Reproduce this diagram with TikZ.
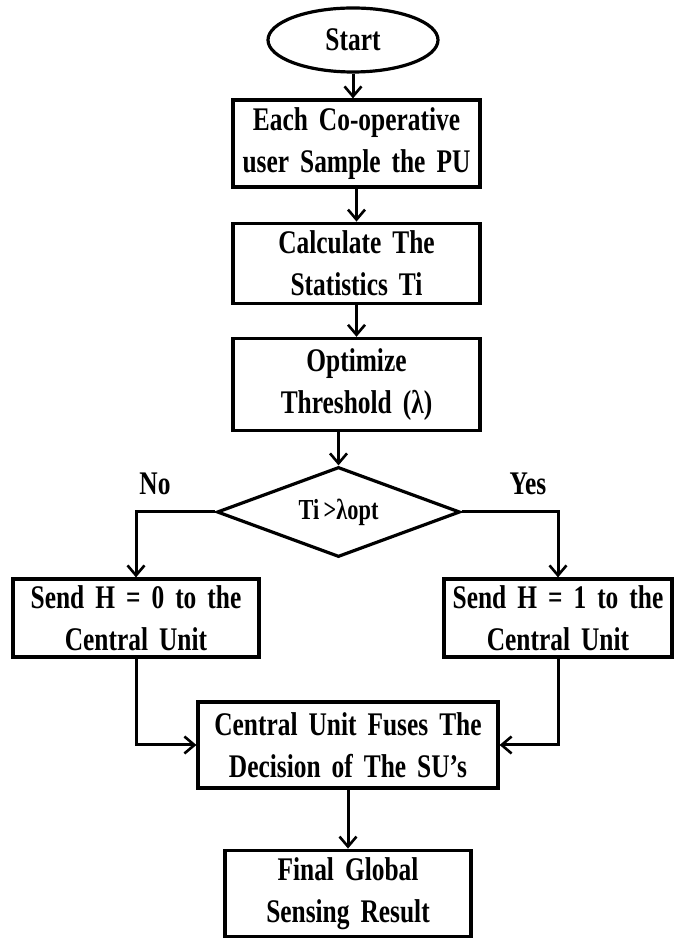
\documentclass[tikz,border=0pt]{standalone}
\usepackage{fontspec}
\setmainfont{Liberation Serif}[FakeStretch=0.77]
\usetikzlibrary{arrows.meta,positioning,shapes.geometric}
\newcommand\flowfont{\bfseries\fontsize{33}{42}\selectfont\spaceskip=5pt plus 1pt minus 1pt\relax}
\newcommand\testfont{\bfseries\fontsize{29}{34}\selectfont\spaceskip=4.5pt plus 1pt minus 1pt\relax}

\begin{document}
\begin{tikzpicture}[x=1pt,y=1pt, every node/.style={font=\flowfont},
  b/.style={draw,line width=3.2pt,align=center,inner sep=0pt,text width=240pt,minimum width=247pt},
  d/.style={diamond,draw,line width=3.2pt,inner sep=0pt,aspect=2.7,minimum width=243pt,minimum height=90pt},
  a/.style={-{Straight Barb[length=10pt,width=17pt,line width=2.6pt]},line width=3pt}]
  \useasboundingbox (0,0) rectangle (683,938);
  \node[ellipse,draw,line width=3.2pt,minimum width=170pt,minimum height=64pt,inner sep=0pt] (start) at (353,898) {Start};
  \node[b,minimum height=87pt] (sample) at (356.5,794.5) {Each Co-operative\\user Sample the PU};
  \node[b,minimum height=80pt,below=33pt of sample] (stat) {Calculate The\\Statistics Ti};
  \node[b,minimum height=92pt,below=32pt of stat] (thr) {Optimize\\Threshold (λ)};
  \node[d,font=\testfont] (test) at (338.5,426) {Ti >λopt};
  \node[b,text width=240pt,minimum width=246pt,minimum height=78pt] (hzero) at (136,320) {Send H = 0 to the\\Central Unit};
  \node[b,text width=222pt,minimum width=228pt,minimum height=78pt] (hone) at (558,320) {Send H = 1 to the\\Central Unit};
  \node[b,text width=294pt,minimum width=300pt,minimum height=86pt] (fuse) at (348,193) {Central Unit Fuses The\\Decision of The SU’s};
  \node[b,minimum width=246pt,minimum height=86pt,below=59pt of fuse] (final) {Final Global\\Sensing Result};
  \node (no) at (155,454) {No};
  \node (yes) at (528,454) {Yes};
  \draw[a] (start.south) -- (start.south |- sample.north);
  \draw[a] (sample) -- (stat);
  \draw[a] (stat) -- (thr);
  \draw[a] (test.north |- thr.south) -- (test.north);
  \draw[a] (test.west) -| (hzero.north);
  \draw[a] (test.east) -| (hone.north);
  \draw[a] (hzero.south) |- (fuse.west);
  \draw[a] (hone.south) |- (fuse.east);
  \draw[a] (fuse) -- (final);
\end{tikzpicture}
\end{document}
